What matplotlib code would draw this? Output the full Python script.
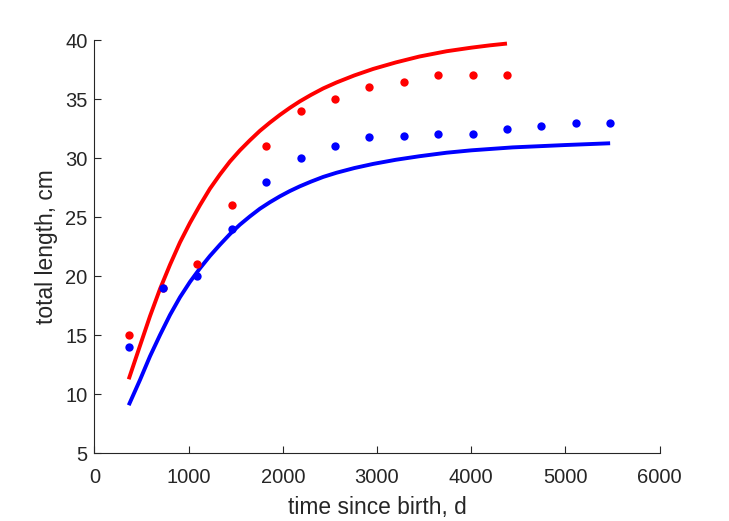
import numpy as np
import matplotlib
matplotlib.use('Agg')
import matplotlib.pyplot as plt

# observed data (days, cm)
t_red = [365, 730, 1095, 1460, 1825, 2190, 2555, 2920, 3285, 3650, 4015, 4380]
L_red = [15, 19, 21, 26, 31, 34, 35, 36, 36.4, 37, 37, 37]
t_blue = [365, 730, 1095, 1460, 1825, 2190, 2555, 2920, 3285, 3650, 4015, 4380, 4745, 5110, 5475]
L_blue = [14, 19, 20, 24, 28, 30, 31, 31.8, 31.85, 32, 32, 32.5, 32.75, 33, 33]

# fitted curves
tc_red = [365, 485, 591, 697, 803, 909, 1015, 1121, 1227, 1333, 1439, 1545, 1651,
          1757, 1863, 1969, 2075, 2181, 2300, 2430, 2570, 2760, 2960, 3200, 3450,
          3740, 4000, 4200, 4380]
Lc_red = [11.25, 14.1, 16.6, 18.9, 20.95, 22.85, 24.5, 26.0, 27.4, 28.6, 29.7, 30.65, 31.5,
          32.3, 33.0, 33.65, 34.25, 34.8, 35.35, 35.9, 36.4, 37.0, 37.55, 38.1, 38.6,
          39.05, 39.35, 39.55, 39.7]
tc_blue = [365, 485, 591, 697, 803, 909, 1015, 1121, 1227, 1333, 1439, 1545, 1651,
           1757, 1863, 1969, 2075, 2181, 2300, 2430, 2570, 2760, 2960, 3200, 3450,
           3740, 4000, 4440, 5000, 5475]
Lc_blue = [9.05, 11.2, 13.2, 15.0, 16.7, 18.2, 19.5, 20.65, 21.7, 22.65, 23.55, 24.35, 25.05,
           25.7, 26.25, 26.75, 27.2, 27.6, 28.0, 28.4, 28.75, 29.15, 29.5, 29.85, 30.15,
           30.45, 30.65, 30.9, 31.1, 31.25]

plt.rcParams['font.family'] = ['Liberation Sans', 'DejaVu Sans']
ink = '#262626'

fig = plt.figure(figsize=(7.29, 5.21), dpi=100)
ax = fig.add_axes([0.1294, 0.1305, 0.7754, 0.7927])

ax.plot(tc_red, Lc_red, color='red', lw=2.8, solid_capstyle='butt', solid_joinstyle='round')
ax.plot(tc_blue, Lc_blue, color='blue', lw=2.8, solid_capstyle='butt', solid_joinstyle='round')
ax.plot(t_red, L_red, 'o', color='red', markersize=6, mec='none')
ax.plot(t_blue, L_blue, 'o', color='blue', markersize=6, mec='none')

ax.set_xlim(0, 6000)
ax.set_ylim(5, 40)
ax.set_xticks(np.arange(0, 6001, 1000))
ax.set_yticks(np.arange(5, 41, 5))

for s in ['top', 'right']:
    ax.spines[s].set_visible(False)
for s in ['left', 'bottom']:
    ax.spines[s].set_color(ink)
    ax.spines[s].set_linewidth(0.8)
ax.tick_params(direction='in', length=5, width=0.8, colors=ink, labelsize=14.5)
ax.tick_params(axis='x', pad=10.5)
ax.tick_params(axis='y', pad=5)

ax.set_xlabel('time since birth, d', fontsize=16.4, color=ink, labelpad=7)
ax.set_ylabel('total length, cm', fontsize=16.4, color=ink, labelpad=5)

fig.savefig('out.png', dpi=100)
